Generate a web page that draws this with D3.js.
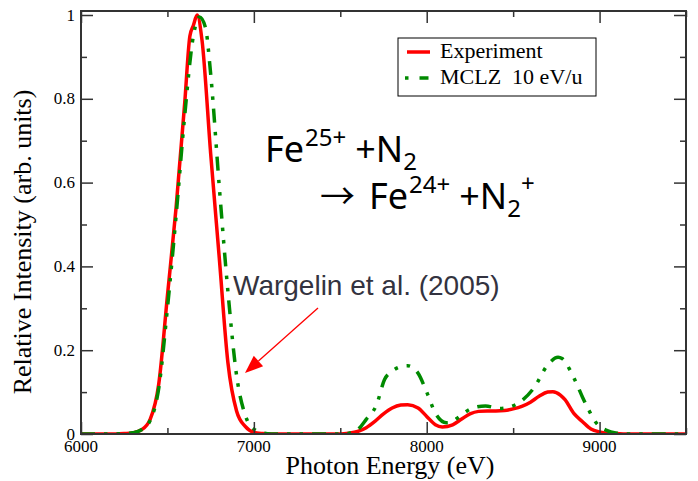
<!DOCTYPE html>
<html><head><meta charset="utf-8">
<script src="https://cdn.jsdelivr.net/npm/d3@7"></script>
<style>
html,body{margin:0;padding:0;background:#fff;}
svg{display:block;}
</style></head>
<body>
<svg id="chart" width="698" height="481"></svg>
<script>
// ---- data ----
const expEnergy = [6000,6100,6200,6250,6300,6350,6400,6450,6500,6550,6600,6630,6650,6672,6700,6750,6800,6850,6900,6950,7000,7050,7100,7200,7300,7400,7500,7550,7600,7650,7700,7750,7800,7850,7890,7950,8000,8050,8090,8150,8200,8250,8300,8350,8400,8450,8500,8550,8600,8650,8700,8730,8773,8800,8851,8900,8950,9000,9050,9100,9150,9200,9300,9400,9500];
const expValue  = [0,0,0,0.001,0.003,0.01,0.035,0.12,0.33,0.54,0.79,0.95,0.975,1.0,0.94,0.67,0.42,0.17,0.055,0.018,0.004,0.001,0,0,0,0,0,0.002,0.006,0.015,0.03,0.048,0.062,0.069,0.07,0.062,0.042,0.022,0.017,0.022,0.035,0.048,0.054,0.055,0.055,0.056,0.06,0.066,0.076,0.09,0.1,0.101,0.093,0.082,0.049,0.03,0.012,0.005,0.002,0.001,0,0,0,0,0];
const mclzEnergy = [6000,6100,6200,6250,6300,6350,6400,6450,6500,6550,6600,6650,6685,6720,6750,6800,6850,6900,6950,7000,7050,7100,7200,7300,7400,7500,7550,7600,7650,7710,7756,7800,7850,7890,7950,8000,8050,8113,8140,8190,8260,8340,8420,8484,8542,8620,8700,8760,8783,8831,8866,8900,8939,8976,9044,9100,9150,9200,9300,9400,9500];
const mclzValue  = [0,0,0,0.001,0.003,0.01,0.032,0.11,0.3,0.52,0.76,0.95,0.995,0.97,0.86,0.59,0.34,0.14,0.045,0.012,0.003,0,0,0,0,0,0.002,0.01,0.035,0.07,0.13,0.15,0.161,0.163,0.145,0.1,0.05,0.027,0.028,0.042,0.061,0.067,0.061,0.065,0.077,0.11,0.165,0.183,0.18,0.151,0.121,0.089,0.056,0.029,0.008,0.002,0,0,0,0,0];
const xMajorTicks = [6000,7000,8000,9000];
const xMinorTicks = [6500,7500,8500,9500];
const yMajorTicks = [0,0.2,0.4,0.6,0.8,1];
const yTickLabels = ["0","0.2","0.4","0.6","0.8","1"];
const yMinorTicks = [0.1,0.3,0.5,0.7,0.9];
const seriesNames = ["Experiment","MCLZ  10 eV/u"];

// ---- layout ----
const svg = d3.select("#chart");
const L = 81, R = 686, T = 11, B = 434;
const x = d3.scaleLinear().domain([6000,9500]).range([L,R]);
const y = d3.scaleLinear().domain([0,1]).range([B,15]);
const serif = "'Liberation Serif','Times New Roman',serif";
const sans = "'Liberation Sans',Arial,sans-serif";

const expData = expEnergy.map((e,i)=>({e, v:expValue[i]}));
const mclzData = mclzEnergy.map((e,i)=>({e, v:mclzValue[i]}));
const line = d3.line().x(d=>x(d.e)).y(d=>y(d.v)).curve(d3.curveMonotoneX);

const g = svg.append("g");
g.append("defs").append("clipPath").attr("id","clip")
  .append("rect").attr("x",L).attr("y",T).attr("width",R-L).attr("height",B-T);

const plot = g.append("g").attr("clip-path","url(#clip)");
plot.append("path").datum(expData).attr("d",line)
  .attr("fill","none").attr("stroke","#ff0000").attr("stroke-width",3.5)
  .attr("stroke-linejoin","round");
plot.append("path").datum(mclzData).attr("d",line)
  .attr("fill","none").attr("stroke","#008a00").attr("stroke-width",3.5)
  .attr("stroke-dasharray","14,9,3.5,9,3.5,9");

// ---- axes (ticks inward, mirrored) ----
const axisColor = "#333";
function axisG(axis, tx, ty){
  const a = g.append("g").attr("transform",`translate(${tx},${ty})`).call(axis);
  a.select(".domain").remove();
  a.selectAll("line").attr("stroke",axisColor).attr("stroke-width",1.5);
  a.selectAll("text").remove();
  return a;
}
axisG(d3.axisBottom(x).tickValues(xMajorTicks).tickSize(-12), 0, B);
axisG(d3.axisBottom(x).tickValues(xMinorTicks).tickSize(-6), 0, B);
axisG(d3.axisTop(x).tickValues(xMajorTicks).tickSize(-12), 0, T);
axisG(d3.axisTop(x).tickValues(xMinorTicks).tickSize(-6), 0, T);
axisG(d3.axisLeft(y).tickValues(yMajorTicks).tickSize(-12), L, 0);
axisG(d3.axisLeft(y).tickValues(yMinorTicks).tickSize(-6), L, 0);
axisG(d3.axisRight(y).tickValues(yMajorTicks).tickSize(-12), R, 0);
axisG(d3.axisRight(y).tickValues(yMinorTicks).tickSize(-6), R, 0);

g.append("rect").attr("x",L).attr("y",T).attr("width",R-L).attr("height",B-T)
  .attr("fill","none").attr("stroke",axisColor).attr("stroke-width",2);

// tick labels
g.selectAll(".xl").data(xMajorTicks).enter().append("text")
  .attr("x",d=>x(d)).attr("y",452).attr("text-anchor","middle")
  .attr("font-family",serif).attr("font-size",17).text(d=>d);
g.selectAll(".yl").data(yMajorTicks).enter().append("text")
  .attr("x",75).attr("y",d=>y(d)).attr("dy","0.33em").attr("text-anchor","end")
  .attr("font-family",serif).attr("font-size",17).text((d,i)=>yTickLabels[i]);

// axis titles
g.append("text").attr("x",390).attr("y",474).attr("text-anchor","middle")
  .attr("font-family",serif).attr("font-size",26).text("Photon Energy (eV)");
g.append("text").attr("transform","translate(31,242) rotate(-90)").attr("text-anchor","middle")
  .attr("font-family",serif).attr("font-size",26).text("Relative Intensity (arb. units)");

// legend
const lg = g.append("g");
lg.append("rect").attr("x",398).attr("y",38).attr("width",198).attr("height",58)
  .attr("fill","#fff").attr("stroke","#000").attr("stroke-width",1);
lg.append("line").attr("x1",407).attr("x2",430).attr("y1",52).attr("y2",52)
  .attr("stroke","#ff0000").attr("stroke-width",3.5);
lg.append("line").attr("x1",405).attr("x2",430).attr("y1",78).attr("y2",78)
  .attr("stroke","#008a00").attr("stroke-width",3.5).attr("stroke-dasharray","3.5,11,9");
lg.selectAll(".lt").data(seriesNames).enter().append("text")
  .attr("x",440).attr("y",(d,i)=>58+i*26)
  .attr("font-family",serif).attr("font-size",22).attr("xml:space","preserve")
  .style("white-space","pre").text(d=>d);

// reaction annotation
const fe = "'Noto Sans','Open Sans',sans-serif";
const t1 = g.append("text").attr("x",265).attr("y",162).attr("font-family",fe).attr("font-size",36);
t1.append("tspan").text("Fe");
t1.append("tspan").attr("dy",-16).attr("dx",1).attr("font-size",24).text("25+");
t1.append("tspan").attr("dy",16).attr("dx",9).text("+N");
t1.append("tspan").attr("dy",8).attr("font-size",24).text("2");
const t2 = g.append("text").attr("x",320).attr("y",209).attr("font-family",fe).attr("font-size",36);
t2.append("tspan").attr("font-family","'Noto Sans CJK SC',sans-serif").attr("font-size",35).text("\u2192");
t2.append("tspan").attr("dx",14).text("Fe");
t2.append("tspan").attr("dy",-16).attr("dx",1).attr("font-size",24).text("24+");
t2.append("tspan").attr("dy",16).attr("dx",9).text("+N");
t2.append("tspan").attr("dy",8).attr("font-size",24).text("2");
t2.append("tspan").attr("dy",-25).attr("font-size",24).text("+");

// Wargelin annotation with arrow
g.append("text").attr("x",233).attr("y",295).attr("font-family",sans).attr("font-size",28)
  .attr("fill","#333340").text("Wargelin et al. (2005)");
const ax1 = 318, ay1 = 308, ax2 = 245, ay2 = 373;
const ang = Math.atan2(ay2-ay1, ax2-ax1);
const hl = 18, hw = 7;
const bx = ax2 - hl*Math.cos(ang), by = ay2 - hl*Math.sin(ang);
g.append("line").attr("x1",ax1).attr("y1",ay1).attr("x2",bx).attr("y2",by)
  .attr("stroke","#ff0000").attr("stroke-width",1.3);
g.append("path").attr("d",`M${ax2},${ay2}L${bx+hw*Math.sin(ang)},${by-hw*Math.cos(ang)}L${bx-hw*Math.sin(ang)},${by+hw*Math.cos(ang)}Z`)
  .attr("fill","#ff0000");
</script>
</body></html>
